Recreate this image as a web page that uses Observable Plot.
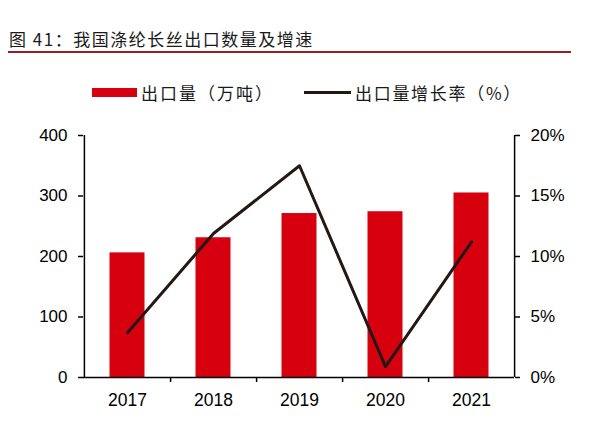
<!DOCTYPE html>
<html>
<head>
<meta charset="utf-8">
<script src="https://cdn.jsdelivr.net/npm/d3@7"></script>
<script src="https://cdn.jsdelivr.net/npm/@observablehq/plot@0.6"></script>
<style>
  body { margin: 0; background: #fff; font-family: "Noto Sans CJK SC", "Liberation Sans", sans-serif; }
  #wrap { position: relative; width: 599px; height: 428px; overflow: hidden; }
  #title { position: absolute; left: 9px; top: 29px; font-size: 17px; color: #1a1a1a; letter-spacing: 1.5px; line-height: 20px; }
  #rule { position: absolute; left: 8px; top: 51px; width: 563px; height: 2px; background: #9a1b22; }
  .leg { position: absolute; top: 82px; font-size: 17px; line-height: 22px; color: #1a1a1a; }
  .sw { position: absolute; }
  #chart { position: absolute; left: 0; top: 0; }
</style>
</head>
<body>
<div id="wrap">
  <div id="chart"></div>
  <div id="title">图 41：我国涤纶长丝出口数量及增速</div>
  <div id="rule"></div>
  <div class="sw" style="left:92px;top:88px;width:45px;height:9px;background:#d7000f"></div>
  <div class="leg" style="left:141px;letter-spacing:2px">出口量（万吨）</div>
  <div class="sw" style="left:304px;top:91px;width:47px;height:3px;background:#231815"></div>
  <div class="leg" style="left:355px;letter-spacing:1.7px">出口量增长率（%）</div>
</div>
<script>
// 数据
const years = ["2017", "2018", "2019", "2020", "2021"]
const exportVol = [206, 231, 271, 274, 305]      // 万吨
const growthRate = [3.7, 11.9, 17.5, 0.9, 11.2]  // %
const leftTicks = [0, 100, 200, 300, 400]
const rightTicks = ["0%", "5%", "10%", "15%", "20%"]

const data = years.map((y, i) => ({year: y, vol: exportVol[i], rate: growthRate[i]}))
const k = 400 / 20  // right axis 0-20% onto left 0-400

const W = 599, H = 428, mL = 83, mR = 85
const bw = (W - mL - mR) / years.length

let chart = Plot.plot({
  width: W,
  height: H,
  marginTop: 135,
  marginBottom: 51,
  marginLeft: mL,
  marginRight: mR,
  x: {domain: years, padding: 0},
  y: {domain: [0, 400]},
  marks: [
    Plot.barY(data, {x: "year", y: "vol", fill: "#d7000f", insetLeft: 25.5, insetRight: 25.5}),
    Plot.line(data, {x: "year", y: d => d.rate * k, stroke: "#231815", strokeWidth: 3}),
    Plot.ruleY([0], {stroke: "#000", strokeWidth: 1.5}),
    Plot.ruleX([years[0]], {y1: 0, y2: 400, dx: -bw / 2, stroke: "#000", strokeWidth: 1.5}),
    Plot.ruleX([years[years.length - 1]], {y1: 0, y2: 400, dx: bw / 2, stroke: "#000", strokeWidth: 1.5}),
    Plot.axisY({anchor: "left", ticks: leftTicks, tickSize: 5, tickPadding: 11, fontSize: 17,
      label: null, stroke: "#000", strokeWidth: 1.5, color: "#000"}),
    Plot.axisY({anchor: "right", ticks: leftTicks, tickSize: 5, tickPadding: 11, fontSize: 17,
      tickFormat: (d, i) => rightTicks[i], label: null, stroke: "#000", strokeWidth: 1.5, color: "#000"}),
    Plot.axisX({ticks: years.slice(0, -1), tickSize: 5, dx: bw / 2, tickFormat: () => "",
      label: null, stroke: "#000", strokeWidth: 1.5}),
    Plot.axisX({tickSize: 0, tickPadding: 16, fontSize: 17.5, label: null, color: "#000"})
  ],
  style: {
    background: "transparent",
    color: "#000",
    fontFamily: "'Liberation Sans', Arial, sans-serif"
  }
})
d3.select("#chart").append(() => chart)
</script>
</body>
</html>
